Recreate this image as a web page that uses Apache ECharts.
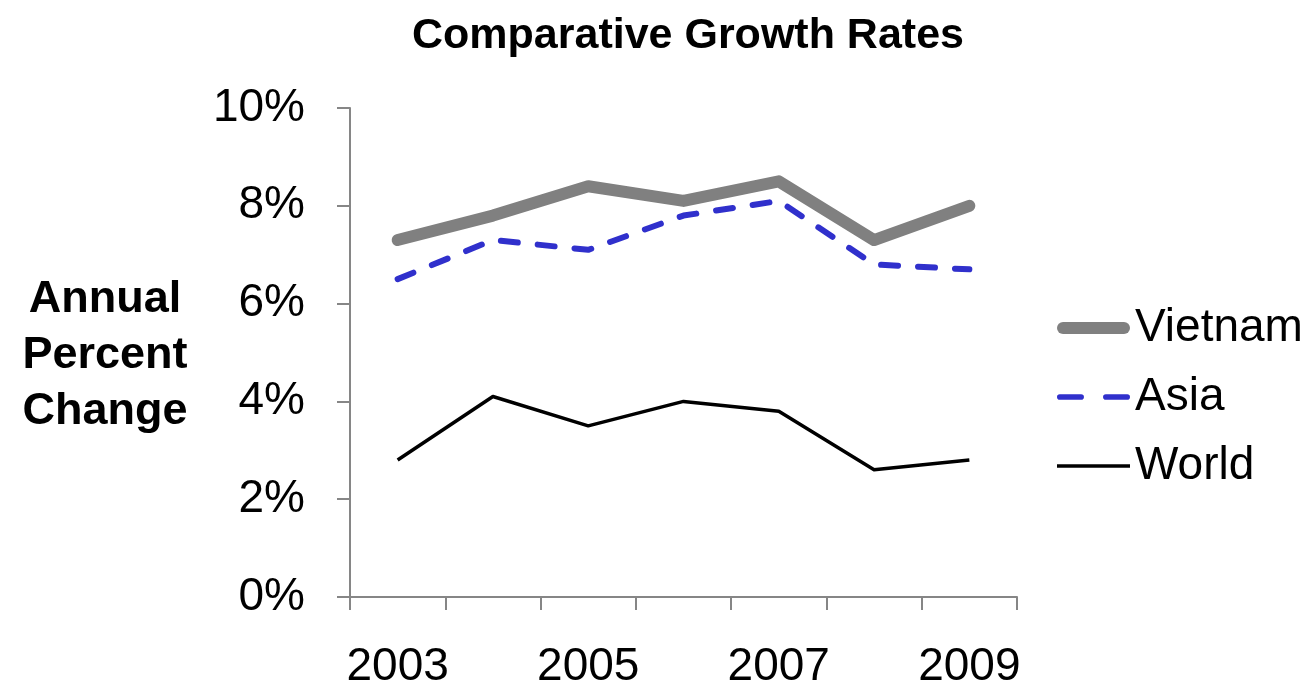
<!DOCTYPE html>
<html>
<head>
<meta charset="utf-8">
<script src="https://cdn.jsdelivr.net/npm/echarts@6/dist/echarts.min.js"></script>
<style>
html,body{margin:0;padding:0;background:#fff;}
#chart{width:1312px;height:686px;}
</style>
</head>
<body>
<div id="chart"></div>
<script>
const years = ['2003','2004','2005','2006','2007','2008','2009'];
const vietnam = [7.3, 7.8, 8.4, 8.1, 8.5, 7.3, 8.0];
const asia = [6.5, 7.3, 7.1, 7.8, 8.1, 6.8, 6.7];
const world = [2.8, 4.1, 3.5, 4.0, 3.8, 2.6, 2.8];
const yTicks = [0, 2, 4, 6, 8, 10];

const FONT = '"Liberation Sans", Arial, sans-serif';
const axisGray = '#868686';
const cVietnam = '#808080', cAsia = '#3030CC', cWorld = '#000000';

const iconVietnam = 'path://M6,0 L67,0 A6,6 0 0 1 67,12 L6,12 A6,6 0 0 1 6,0 Z';
const iconAsia = 'path://M2.5,0 L21.5,0 A2.5,2.5 0 0 1 21.5,5 L2.5,5 A2.5,2.5 0 0 1 2.5,0 Z M43.5,0 L62.5,0 A2.5,2.5 0 0 1 62.5,5 L43.5,5 A2.5,2.5 0 0 1 43.5,0 Z';
const iconWorld = 'path://M0,0 L73,0 L73,3.5 L0,3.5 Z';

const chart = echarts.init(document.getElementById('chart'), null, {renderer: 'canvas'});
chart.setOption({
  animation: false,
  backgroundColor: '#ffffff',
  title: {
    text: 'Comparative Growth Rates',
    left: 683,
    textAlign: 'center',
    top: 10,
    textStyle: {fontFamily: FONT, fontWeight: 'bold', fontSize: 43, color: '#000'}
  },
  grid: {left: 350, right: 295, top: 108, bottom: 89, containLabel: false, outerBoundsMode: 'none'},
  legend: {
    orient: 'vertical',
    left: 1057,
    top: 305,
    padding: 0,
    itemWidth: 73,
    itemHeight: 14,
    itemGap: 23,
    symbolKeepAspect: true,
    textStyle: {fontFamily: FONT, fontSize: 46, color: '#000', lineHeight: 46},
    data: [
      {name: 'Vietnam', icon: iconVietnam, itemStyle: {color: cVietnam, borderWidth: 0}},
      {name: 'Asia', icon: iconAsia, itemStyle: {color: cAsia, borderWidth: 0}},
      {name: 'World', icon: iconWorld, itemStyle: {color: cWorld, borderWidth: 0}}
    ]
  },
  graphic: [{
    type: 'text',
    x: 105,
    y: 356,
    style: {
      text: 'Annual\nPercent\nChange',
      font: 'bold 45px ' + FONT,
      fill: '#000',
      align: 'center',
      verticalAlign: 'middle',
      lineHeight: 56
    }
  }],
  xAxis: {
    type: 'category',
    data: years,
    boundaryGap: true,
    axisLine: {lineStyle: {color: axisGray, width: 2}},
    axisTick: {show: true, interval: 0, length: 13, lineStyle: {color: axisGray, width: 2}},
    axisLabel: {interval: 1, margin: 47, fontFamily: FONT, fontSize: 46, color: '#000'},
    splitLine: {show: false}
  },
  yAxis: {
    type: 'value',
    min: yTicks[0],
    max: yTicks[yTicks.length - 1],
    interval: 2,
    axisLine: {show: true, lineStyle: {color: axisGray, width: 2}},
    axisTick: {show: true, length: 13, lineStyle: {color: axisGray, width: 2}},
    axisLabel: {formatter: '{value}%', margin: 45, fontFamily: FONT, fontSize: 46, color: '#000'},
    splitLine: {show: false}
  },
  series: [
    {
      name: 'Vietnam', type: 'line', data: vietnam, symbol: 'none',
      itemStyle: {color: cVietnam},
      lineStyle: {color: cVietnam, width: 12, cap: 'round', join: 'round'}
    },
    {
      name: 'Asia', type: 'line', data: asia, symbol: 'none',
      itemStyle: {color: cAsia},
      lineStyle: {color: cAsia, width: 6, type: [17, 20], cap: 'round', join: 'round'}
    },
    {
      name: 'World', type: 'line', data: world, symbol: 'none',
      itemStyle: {color: cWorld},
      lineStyle: {color: cWorld, width: 3.5, join: 'round'}
    }
  ]
});
</script>
</body>
</html>
